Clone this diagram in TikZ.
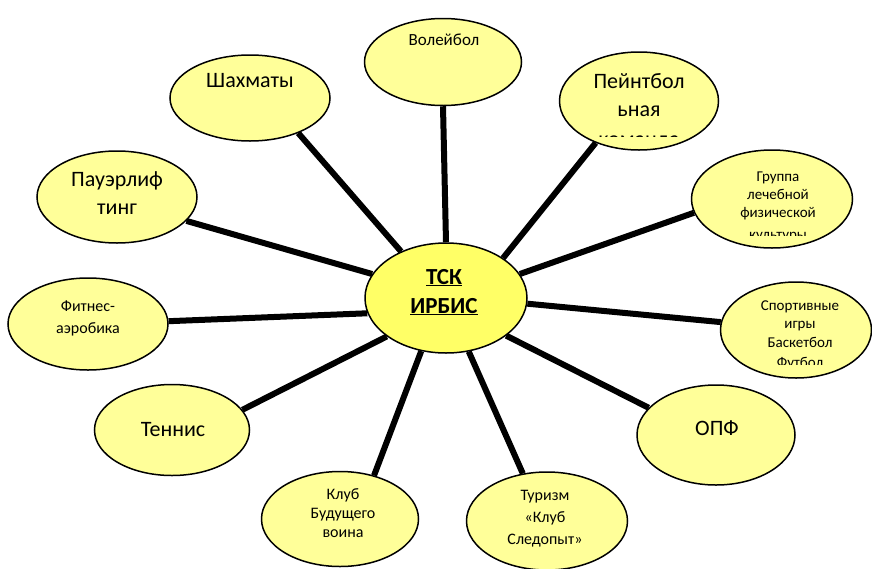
\documentclass[tikz,border=0pt]{standalone}
\usepackage{fontspec}
\setmainfont{Carlito}
\usetikzlibrary{shapes.geometric}
\definecolor{clubfill}{HTML}{FFFF99}
\definecolor{hubfill}{HTML}{FFFF66}
\tikzset{
        club_n/.style = {ellipse, draw=black, fill=clubfill, line width=1.5pt,
            inner sep=0pt},
        hub_n/.style = {club_n, fill=hubfill},
        club_t/.style = {align=center, anchor=base, inner sep=0pt,
            font=\fontsize{16}{19}\selectfont},
        big_t/.style = {club_t, font=\fontsize{22}{28}\selectfont},
        hub_t/.style = {club_t, font=\fontsize{23}{29}\selectfont\bfseries},
        spoke/.style = {line width=6pt, black}
    }

\begin{document}
\begin{tikzpicture}[x=1pt, y=-1pt]
    \useasboundingbox (0,0) rectangle (872,568);
    % ellipses
    \node [club_n, minimum width=157, minimum height=87]  (volley) at (443,62)  {};
    \node [club_n, minimum width=160, minimum height=86]  (chess)  at (250,98)  {};
    \node [club_n, minimum width=159, minimum height=98]  (paint)  at (639,101) {};
    \node [club_n, minimum width=160, minimum height=92]  (power)  at (117,197) {};
    \node [club_n, minimum width=161, minimum height=98]  (lfk)    at (772,199) {};
    \node [club_n, minimum width=160, minimum height=92]  (fit)    at (88,324)  {};
    \node [club_n, minimum width=151, minimum height=96]  (games)  at (796,330) {};
    \node [club_n, minimum width=155, minimum height=91]  (tennis) at (172,430) {};
    \node [club_n, minimum width=158, minimum height=100] (opf)    at (716,435) {};
    \node [club_n, minimum width=157, minimum height=95]  (warrior) at (340,519) {};
    \node [club_n, minimum width=161, minimum height=98]  (tour)   at (547,521) {};
    \node [hub_n,  minimum width=162, minimum height=110] (hub)    at (446,298) {};
    % spokes
    \foreach \ha/\to/\ta in {90/volley/270, 134/chess/324, 35/paint/224,
        162/power/341, 18/lfk/190, 191/fit/2, 356/games/174, 213/tennis/16,
        328/opf/158, 245/warrior/52, 293/tour/117}
        \draw [spoke] (hub.\ha) -- (\to.\ta);
    % texts (base = last line)
    \node [hub_t] (hub_t) at (444,313) {\underline{ТСК}\\\underline{ИРБИС}};
    \node [club_t, font=\fontsize{17}{20}\selectfont] (volley_t) at (444,45) {Волейбол};
    \node [big_t] (chess_t)  at (250,87)  {Шахматы};
    \node [big_t] (paint_t)  at (639,116) {Пейнтбол\\ьная};
    \node [big_t] (power_t)  at (117,214) {Пауэрлиф\\тинг};
    \node [club_t, font=\fontsize{15}{18}\selectfont] (lfk_t) at (778,217)
        {Группа\\лечебной\\физической};
    \node [club_t, font=\fontsize{16}{22}\selectfont] (fit_t) at (88,333)
        {Фитнес-\\аэробика};
    \node [club_t, font=\fontsize{15}{18.5}\selectfont] (games_t) at (800,347)
        {Спортивные\\игры\\Баскетбол};
    \node [big_t] (tennis_t) at (173,436) {Теннис};
    \node [big_t] (opf_t)    at (717,435) {ОПФ};
    \node [club_t] (warrior_t) at (343,537) {Клуб\\Будущего\\воина};
    \node [club_t, font=\fontsize{16}{22}\selectfont] (tour_t) at (545,544)
        {Туризм\\«Клуб\\Следопыт»};
    % cut-off last lines
    \begin{scope}
        \clip (560,120) rectangle (720,136);
        \node [big_t] (paint_cut) at (639,146) {команда};
    \end{scope}
    \begin{scope}
        \clip (700,222) rectangle (850,235);
        \node [club_t, font=\fontsize{15}{18}\selectfont] (lfk_cut) at (778,239) {культуры};
    \end{scope}
    \begin{scope}
        \clip (725,352) rectangle (870,364);
        \node [club_t, font=\fontsize{15}{18.5}\selectfont] (games_cut) at (800,367) {Футбол};
    \end{scope}
\end{tikzpicture}
\end{document}
